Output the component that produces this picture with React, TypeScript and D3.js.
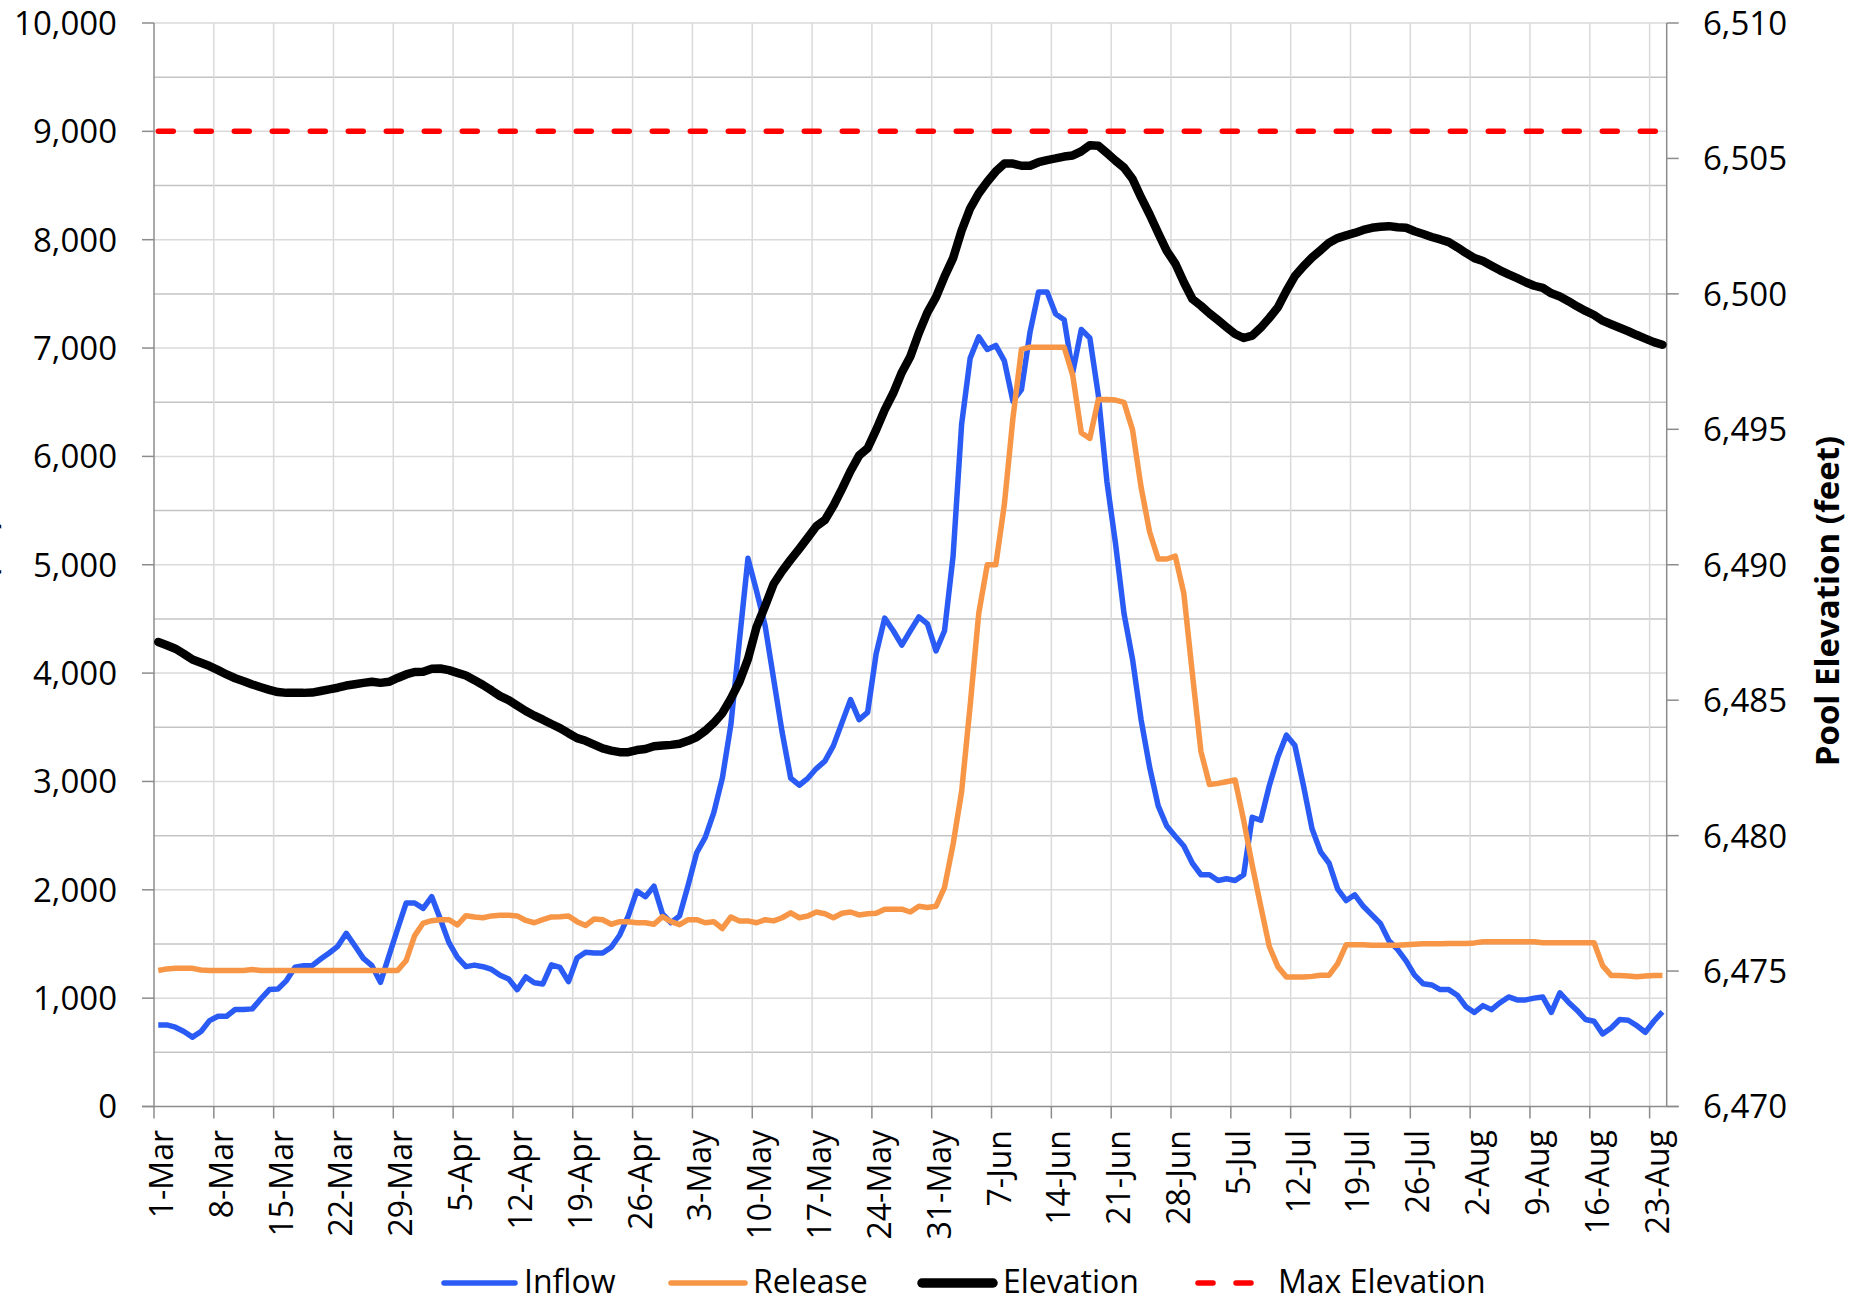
import React from 'react';
import * as d3 from 'd3';

// weekly tick labels on the date axis (one per 7 days from 1-Mar)
const tickLabels = [
  '1-Mar', '8-Mar', '15-Mar', '22-Mar', '29-Mar', '5-Apr', '12-Apr', '19-Apr', '26-Apr',
  '3-May', '10-May', '17-May', '24-May', '31-May', '7-Jun', '14-Jun', '21-Jun', '28-Jun',
  '5-Jul', '12-Jul', '19-Jul', '26-Jul', '2-Aug', '9-Aug', '16-Aug', '23-Aug',
];
const leftTicks = [0, 1000, 2000, 3000, 4000, 5000, 6000, 7000, 8000, 9000, 10000];
const rightTicks = [6470, 6475, 6480, 6485, 6490, 6495, 6500, 6505, 6510];

// daily values, 1-Mar .. 24-Aug (cfs)
const inflow = [
  753, 753, 732, 692, 640, 692, 793,
  833, 833, 895, 895, 901, 993, 1079,
  1085, 1162, 1285, 1300, 1300, 1361, 1417,
  1478, 1598, 1484, 1367, 1300, 1146, 1392,
  1638, 1878, 1878, 1828, 1936, 1730, 1515,
  1377, 1291, 1305, 1290, 1265, 1212, 1177,
  1078, 1195, 1142, 1131, 1307, 1283, 1152,
  1370, 1424, 1417, 1417, 1470, 1583, 1760,
  1989, 1936, 2034, 1777, 1696, 1760, 2042,
  2342, 2483, 2712, 3030, 3524, 4300, 5059,
  4759, 4441, 3947, 3453, 3030, 2965, 3029,
  3119, 3188, 3331, 3543, 3755, 3570, 3638,
  4179, 4507, 4391, 4258, 4391, 4518, 4454,
  4205, 4391, 5080, 6298, 6907, 7103, 6987,
  7024, 6881, 6510, 6616, 7146, 7517, 7517,
  7315, 7262, 6775, 7172, 7093, 6563, 5768,
  5200, 4550, 4126, 3570, 3130, 2775, 2589,
  2494, 2404, 2245, 2139, 2139, 2086, 2102,
  2086, 2139, 2669, 2642, 2960, 3225, 3427,
  3331, 2960, 2563, 2351, 2245, 2007, 1901,
  1954, 1848, 1768, 1689, 1530, 1450, 1344,
  1212, 1133, 1122, 1079, 1079, 1027, 921,
  868, 931, 894, 958, 1011, 984, 984,
  1000, 1011, 868, 1050, 963, 889, 803,
  787, 670, 725, 803, 796, 747, 685,
  787, 874,
];

const release = [
  1255, 1270, 1275, 1275, 1275, 1260, 1255,
  1255, 1255, 1255, 1255, 1265, 1255, 1255,
  1255, 1255, 1255, 1255, 1255, 1255, 1255,
  1255, 1255, 1255, 1255, 1255, 1255, 1255,
  1255, 1346, 1577, 1693, 1715, 1724, 1724,
  1675, 1761, 1749, 1742, 1759, 1766, 1766,
  1759, 1717, 1696, 1724, 1749, 1752, 1759,
  1706, 1671, 1731, 1724, 1682, 1706, 1706,
  1696, 1696, 1682, 1752, 1706, 1678, 1724,
  1724, 1696, 1706, 1643, 1749, 1713, 1713,
  1696, 1724, 1713, 1742, 1787, 1742, 1758,
  1795, 1779, 1742, 1784, 1795, 1768, 1779,
  1784, 1821, 1821, 1821, 1795, 1848, 1837,
  1848, 2023, 2420, 2907, 3702, 4550, 5000,
  5000, 5556, 6351, 6987, 7008, 7008, 7008,
  7008, 7008, 6748, 6219, 6166, 6526, 6526,
  6520, 6499, 6245, 5715, 5302, 5053, 5053,
  5079, 4735, 3994, 3278, 2971, 2982, 2997,
  3013, 2642, 2229, 1848, 1477, 1291, 1196,
  1196, 1196, 1201, 1212, 1212, 1318, 1493,
  1493, 1493, 1488, 1488, 1488, 1488, 1493,
  1498, 1503, 1503, 1503, 1505, 1505, 1505,
  1510, 1520, 1520, 1520, 1520, 1520, 1520,
  1520, 1512, 1512, 1512, 1512, 1512, 1512,
  1512, 1300, 1210, 1210, 1205, 1198, 1205,
  1210, 1210,
];

// pool elevation (feet)
const elevation = [
  6487.15, 6487.03, 6486.90, 6486.71, 6486.50, 6486.38, 6486.26,
  6486.11, 6485.95, 6485.81, 6485.70, 6485.58, 6485.48, 6485.38,
  6485.30, 6485.27, 6485.27, 6485.27, 6485.28, 6485.34, 6485.40,
  6485.46, 6485.54, 6485.59, 6485.64, 6485.68, 6485.64, 6485.68,
  6485.82, 6485.95, 6486.04, 6486.05, 6486.16, 6486.17, 6486.11,
  6486.01, 6485.91, 6485.74, 6485.56, 6485.36, 6485.15, 6485.00,
  6484.80, 6484.60, 6484.43, 6484.28, 6484.12, 6483.97, 6483.78,
  6483.60, 6483.50, 6483.36, 6483.22, 6483.14, 6483.08, 6483.08,
  6483.16, 6483.20, 6483.30, 6483.33, 6483.35, 6483.39, 6483.50,
  6483.64, 6483.87, 6484.16, 6484.52, 6485.06, 6485.68, 6486.52,
  6487.70, 6488.47, 6489.29, 6489.77, 6490.19, 6490.59, 6491.00,
  6491.42, 6491.65, 6492.18, 6492.80, 6493.46, 6494.03, 6494.30,
  6494.98, 6495.72, 6496.34, 6497.10, 6497.69, 6498.56, 6499.32,
  6499.88, 6500.64, 6501.32, 6502.34, 6503.16, 6503.71, 6504.14,
  6504.52, 6504.81, 6504.81, 6504.73, 6504.73, 6504.86, 6504.94,
  6505.00, 6505.07, 6505.11, 6505.26, 6505.49, 6505.47, 6505.20,
  6504.92, 6504.66, 6504.24, 6503.56, 6502.93, 6502.25, 6501.59,
  6501.12, 6500.43, 6499.81, 6499.56, 6499.28, 6499.03, 6498.77,
  6498.52, 6498.37, 6498.46, 6498.75, 6499.11, 6499.50, 6500.11,
  6500.66, 6501.02, 6501.34, 6501.61, 6501.89, 6502.06, 6502.16,
  6502.25, 6502.36, 6502.44, 6502.48, 6502.50, 6502.46, 6502.44,
  6502.31, 6502.21, 6502.10, 6502.01, 6501.91, 6501.72, 6501.51,
  6501.32, 6501.21, 6501.04, 6500.87, 6500.72, 6500.58, 6500.43,
  6500.30, 6500.22, 6500.02, 6499.90, 6499.73, 6499.54, 6499.37,
  6499.22, 6499.01, 6498.88, 6498.75, 6498.62, 6498.48, 6498.35,
  6498.22, 6498.12,
];

const maxElevation = 6506;

const FONT = "'Open Sans', 'Noto Sans', sans-serif";
const BLUE = '#2a5cf5';
const ORANGE = '#f79646';

const App = () => {
  const width = 1850;
  const height = 1303;
  const left = 154;
  const right = 1666.7;
  const top = 23;
  const bottom = 1106.5;

  const x = d3.scaleLinear().domain([0, 177]).range([left, right]);
  const yFlow = d3.scaleLinear().domain([0, 10000]).range([bottom, top]);
  const yElev = d3.scaleLinear().domain([6470, 6510]).range([bottom, top]);

  const flowLine = d3.line<number>()
    .x((d, i) => x(i + 0.5))
    .y(d => yFlow(d));
  const elevLine = d3.line<number>()
    .x((d, i) => x(i + 0.5))
    .y(d => yElev(d));

  const minorGrid = d3.range(500, 10001, 500);
  const tickDays = tickLabels.map((_, k) => k * 7);
  const legendY = 1281;

  return (
    <div style={{ position: 'absolute', left: 0, top: 0 }}>
      <svg width={width} height={height} style={{ display: 'block', background: '#fff' }}>
        {/* horizontal gridlines */}
        {minorGrid.map(v => (
          <line key={'h' + v} x1={left} x2={right} y1={yFlow(v)} y2={yFlow(v)}
            stroke={v % 1000 === 0 ? '#dadada' : '#c4c4c4'} strokeWidth={1.5} />
        ))}
        {/* vertical gridlines */}
        {tickDays.slice(1).map(d => (
          <line key={'v' + d} x1={x(d)} x2={x(d)} y1={top} y2={bottom}
            stroke="#dadada" strokeWidth={1.5} />
        ))}

        {/* axes */}
        <line x1={left} x2={left} y1={top} y2={bottom} stroke="#8c8c8c" strokeWidth={1.5} />
        <line x1={right} x2={right} y1={top} y2={bottom} stroke="#8c8c8c" strokeWidth={1.5} />
        <line x1={left - 12} x2={right + 12} y1={bottom} y2={bottom} stroke="#8c8c8c" strokeWidth={1.5} />
        {leftTicks.map(v => (
          <g key={'lt' + v}>
            <line x1={left - 12} x2={left} y1={yFlow(v)} y2={yFlow(v)} stroke="#8c8c8c" strokeWidth={1.5} />
            <text x={117} y={yFlow(v)} dy="0.36em" textAnchor="end" fontFamily={FONT} fontSize={33} fill="#000">
              {d3.format(',')(v)}
            </text>
          </g>
        ))}
        {rightTicks.map(v => (
          <g key={'rt' + v}>
            <line x1={right} x2={right + 12} y1={yElev(v)} y2={yElev(v)} stroke="#8c8c8c" strokeWidth={1.5} />
            <text x={1703} y={yElev(v)} dy="0.36em" textAnchor="start" fontFamily={FONT} fontSize={33} fill="#000">
              {d3.format(',')(v)}
            </text>
          </g>
        ))}
        {tickDays.map((d, k) => (
          <g key={'bt' + d}>
            <line x1={x(d)} x2={x(d)} y1={bottom} y2={bottom + 12} stroke="#8c8c8c" strokeWidth={1.5} />
            <text transform={`translate(${x(d) + 19},1130) rotate(-90)`} textAnchor="end"
              fontFamily={FONT} fontSize={32} fill="#000">
              {tickLabels[k]}
            </text>
          </g>
        ))}

        {/* axis titles (the left one runs off the page edge, as in the original) */}
        <text transform="translate(-3,520) rotate(-90)" textAnchor="end" fontFamily={FONT}
          fontWeight="bold" fontSize={28} fill="#000">Flow (cfs)</text>
        <text transform="translate(1839,601) rotate(-90)" textAnchor="middle" fontFamily={FONT}
          fontWeight="bold" fontSize={33} fill="#000">Pool Elevation (feet)</text>

        {/* series */}
        <path d={flowLine(inflow) || ''} fill="none" stroke={BLUE} strokeWidth={5.5} strokeLinejoin="round" />
        <path d={flowLine(release) || ''} fill="none" stroke={ORANGE} strokeWidth={5.5} strokeLinejoin="round" />
        <path d={elevLine(elevation) || ''} fill="none" stroke="#000" strokeWidth={8.5} strokeLinejoin="round" strokeLinecap="round" />
        <line x1={x(0.5)} x2={x(176.5)} y1={yElev(maxElevation)} y2={yElev(maxElevation)}
          stroke="#ff0000" strokeWidth={5.5} strokeDasharray="15 23" strokeLinecap="round" />

        {/* legend */}
        <g fontFamily={FONT} fontSize={32} fill="#000">
          <line x1={444} x2={515} y1={legendY + 2} y2={legendY + 2} stroke={BLUE} strokeWidth={5.5} strokeLinecap="round" />
          <text x={524} y={legendY} dy="0.36em">Inflow</text>
          <line x1={671} x2={745} y1={legendY + 2} y2={legendY + 2} stroke={ORANGE} strokeWidth={5.5} strokeLinecap="round" />
          <text x={753} y={legendY} dy="0.36em">Release</text>
          <line x1={922} x2={993} y1={legendY + 2} y2={legendY + 2} stroke="#000" strokeWidth={9.5} strokeLinecap="round" />
          <text x={1003} y={legendY} dy="0.36em">Elevation</text>
          <line x1={1198} x2={1252} y1={legendY + 2} y2={legendY + 2} stroke="#ff0000" strokeWidth={5.5}
            strokeDasharray="15 23" strokeLinecap="round" />
          <text x={1278} y={legendY} dy="0.36em">Max Elevation</text>
        </g>
      </svg>
    </div>
  );
};

export default App;
